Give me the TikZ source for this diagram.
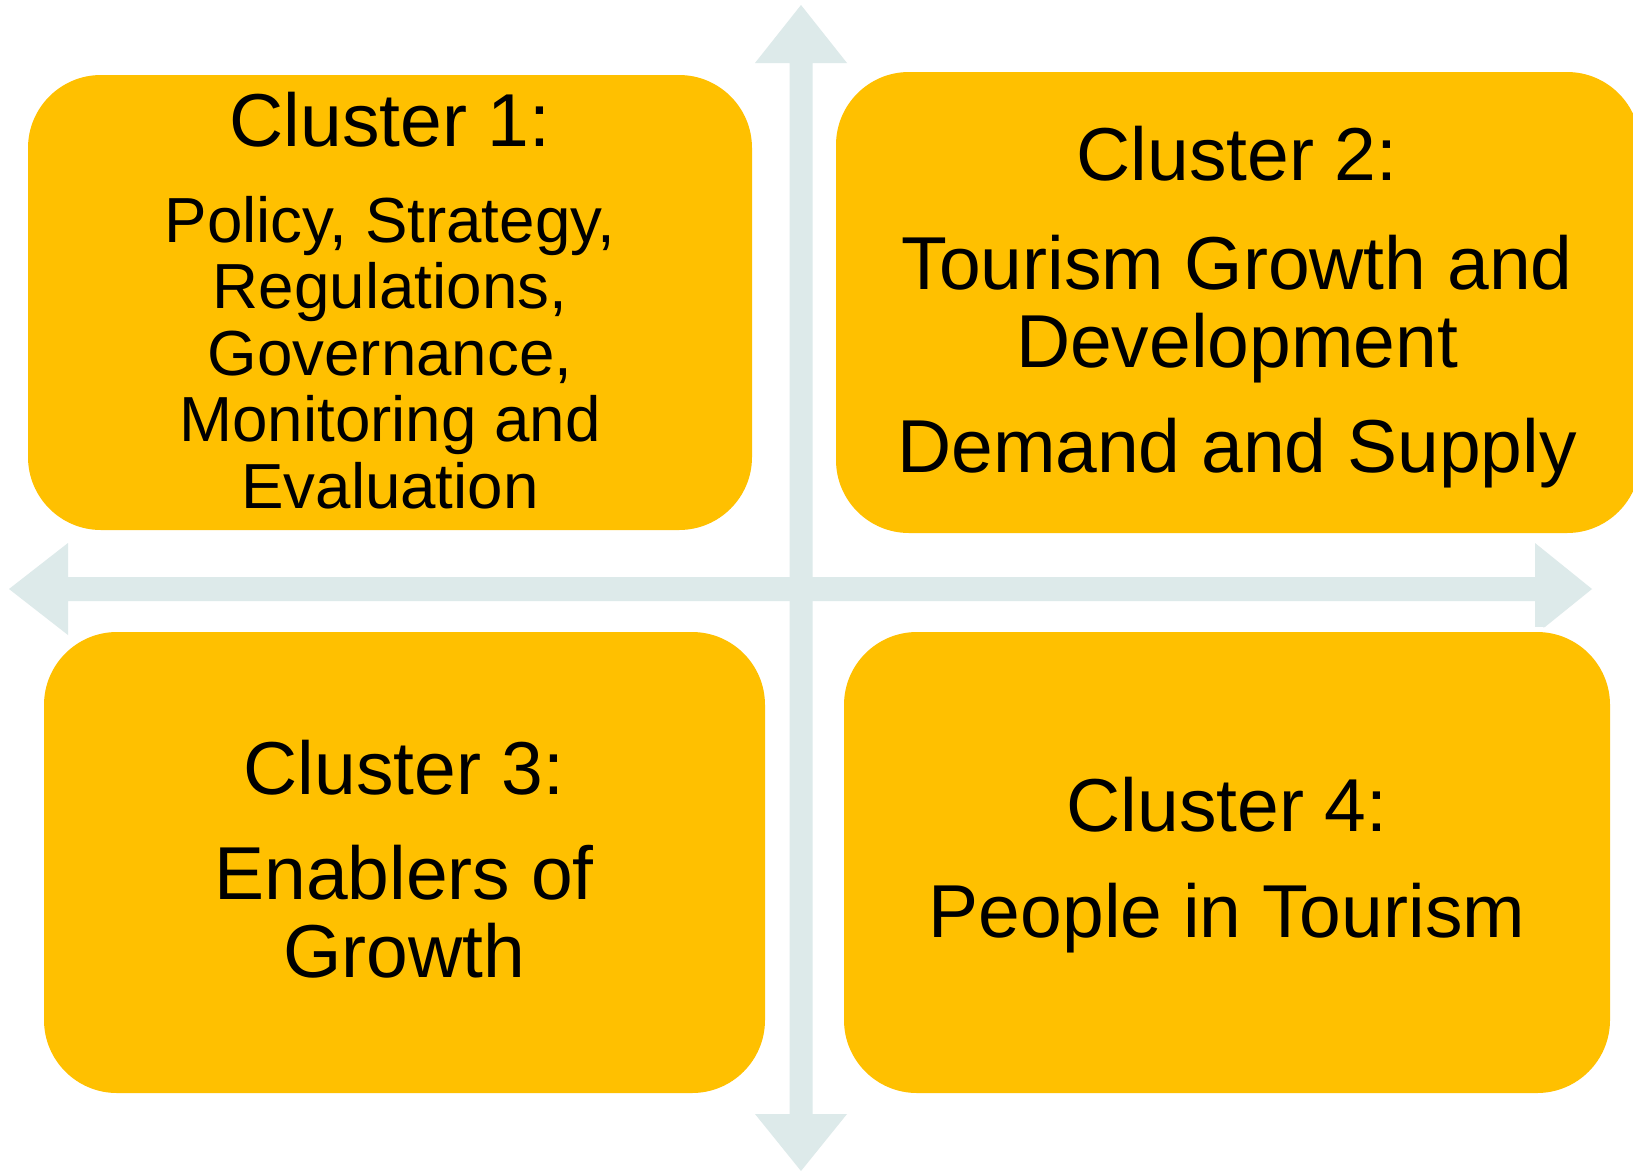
\documentclass[tikz,border=0pt]{standalone}
\usepackage{fontspec}
\setmainfont{Liberation Sans}
\definecolor{gold}{RGB}{255,192,0}
\definecolor{axiscol}{RGB}{221,234,234}
\begin{document}
\begin{tikzpicture}[x=1pt,y=-1pt,
  box/.style={rectangle, rounded corners=73pt, fill=gold, inner sep=0pt, outer sep=0pt,
              preaction={draw=white, line width=10pt}},
  big/.style={font=\fontsize{75}{78}\selectfont, anchor=base, inner sep=0pt, text=black},
  small/.style={font=\fontsize{63.7}{66}\selectfont, anchor=base, inner sep=0pt, text=black},
  axisarrow/.style={fill=axiscol, draw=none}]
\clip (0,0) rectangle (1633,1171);
\fill[white] (0,0) rectangle (1633,1171);

% vertical double arrow
\path[axisarrow] (789.5,63) -- (755,63) -- (801,5) -- (847,63) -- (812.5,63)
  -- (812.5,1114) -- (847,1114) -- (801,1171) -- (755,1114) -- (789.5,1114) -- cycle;
% horizontal double arrow
\path[axisarrow] (68,577) -- (68,543) -- (9,589) -- (68,635) -- (68,601)
  -- (1535,601) -- (1535,635) -- (1592,589) -- (1535,543) -- (1535,577) -- cycle;

% boxes
\node[box, minimum width=724pt, minimum height=455pt] (c1) at (390,302.5) {};
\node[box, minimum width=804pt, minimum height=461pt] (c2) at (1238,302.5) {};
\node[box, minimum width=721pt, minimum height=461pt] (c3) at (404.5,862.5) {};
\node[box, minimum width=766pt, minimum height=461pt] (c4) at (1227,862.5) {};

% Cluster 1
\node[big] (c1h) at (390,146) {Cluster 1:};
\node[small] (c1a) at (390,242) {Policy, Strategy,};
\node[small] (c1b) at (390,308.5) {Regulations,};
\node[small] (c1c) at (390,375) {Governance,};
\node[small] (c1d) at (390,441.5) {Monitoring and};
\node[small] (c1e) at (390,508) {Evaluation};

% Cluster 2
\node[big] (c2h) at (1237,180) {Cluster 2:};
\node[big] (c2a) at (1237,289) {Tourism Growth and};
\node[big] (c2b) at (1237,367) {Development};
\node[big] (c2c) at (1237,472) {Demand and Supply};

% Cluster 3
\node[big] (c3h) at (404,794) {Cluster 3:};
\node[big] (c3a) at (404,899) {Enablers of};
\node[big] (c3b) at (404,977) {Growth};

% Cluster 4
\node[big] (c4h) at (1227,831) {Cluster 4:};
\node[big] (c4a) at (1227,937) {People in Tourism};
\end{tikzpicture}
\end{document}
